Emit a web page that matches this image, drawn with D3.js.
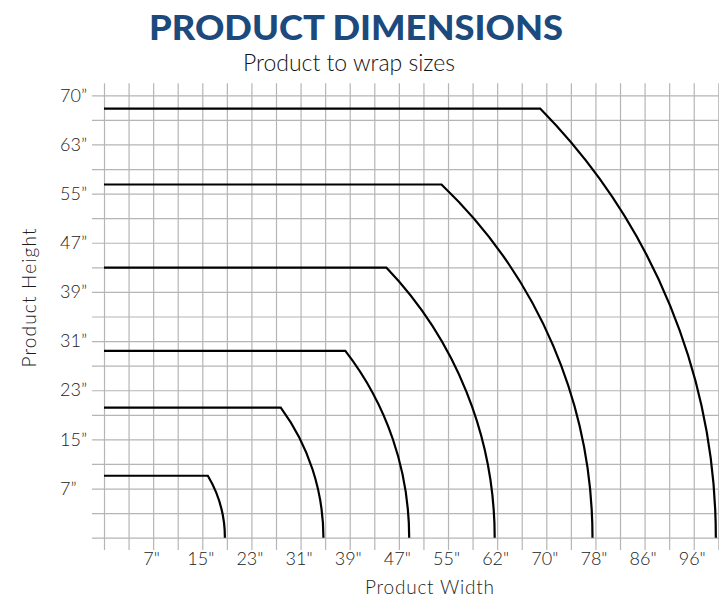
<!DOCTYPE html>
<html>
<head>
<meta charset="utf-8">
<script src="https://cdn.jsdelivr.net/npm/d3@7"></script>
<style>
  body { margin: 0; background: #fff; }
  .grid line { stroke: #b5b5b5; stroke-width: 1.2; }
  .grid path { display: none; }
  .ticklabels path, .ticklabels line { display: none; }
  .ticklabels text { font-family: Lato, sans-serif; font-size: 18px; font-weight: 300; fill: #222; }
  .axis-label { font-family: Lato, sans-serif; font-size: 19px; font-weight: 300; fill: #1e1e1e; }
</style>
</head>
<body>
<div id="chart"></div>
<script>
'use strict';

// wrap sizes, in grid units (one grid cell each way)
const wrapRadius = [4.92, 8.93, 12.42, 15.9, 19.88, 24.9];
const wrapHeight = [2.52, 5.29, 7.6, 10.99, 14.37, 17.46];

// tick labels and the grid line they sit on
const xTickIndex = [2, 4, 6, 8, 10, 12, 14, 16, 18, 20, 22, 24];
const xTickLabels = ['7"', '15"', '23"', '31"', '39"', '47"', '55"', '62"', '70"', '78"', '86"', '96"'];
const yTickIndex = [2, 4, 6, 8, 10, 12, 14, 16, 18];
const yTickLabels = ['7\u201d', '15\u201d', '23\u201d', '31\u201d', '39\u201d', '47\u201d', '55\u201d', '63\u201d', '70\u201d'];

let w = 719, h = 597;
let svg = d3.select('#chart').append('svg').attr('width', w).attr('height', h);

let x = d3.scaleLinear().domain([0, 25]).range([104, 718.3]);
let y = d3.scaleLinear().domain([0, 18]).range([537.7, 95.3]);

// vertical grid lines (run a bit past top and bottom)
svg.append('g')
    .attr('class', 'grid')
    .attr('transform', 'translate(0,550)')
    .call(d3.axisBottom(x).tickValues(d3.range(0, 26)).tickSize(-(550 - 83.3)).tickFormat(''));

// horizontal grid lines (stick out on the left)
svg.append('g')
    .attr('class', 'grid')
    .attr('transform', 'translate(92,0)')
    .call(d3.axisLeft(y).tickValues(d3.range(0, 19)).tickSize(-(w - 92 + 5)).tickFormat(''));

// x tick labels
svg.append('g')
    .attr('class', 'ticklabels')
    .attr('transform', 'translate(-2,549)')
    .call(d3.axisBottom(x).tickValues(xTickIndex).tickSize(0)
        .tickFormat((d, i) => xTickLabels[i]));

// y tick labels, left aligned
let yl = svg.append('g')
    .attr('class', 'ticklabels')
    .attr('transform', 'translate(60,0)')
    .call(d3.axisLeft(y).tickValues(yTickIndex).tickSize(0)
        .tickFormat((d, i) => yTickLabels[i]));
yl.selectAll('text').attr('x', 0).attr('text-anchor', 'start');

// wrap curves: flat top then quarter circle round the origin
let curves = svg.append('g');
wrapRadius.forEach(function (R, i) {
    let H = wrapHeight[i];
    let cx = x(0), cy = y(0);
    let r = x(R) - x(0);
    let a0 = -Math.asin((cy - y(H)) / r);
    let p = d3.path();
    p.moveTo(cx, y(H));
    p.arc(cx, cy, r, a0, 0, false);
    curves.append('path')
        .attr('d', p.toString())
        .attr('fill', 'none')
        .attr('stroke', '#000')
        .attr('stroke-width', 2.2);
});

// titles
svg.append('text')
    .attr('x', 356).attr('y', 40)
    .attr('text-anchor', 'middle')
    .attr('textLength', 414).attr('lengthAdjust', 'spacingAndGlyphs')
    .style('font-family', 'Lato, sans-serif')
    .style('font-weight', 900)
    .style('font-size', '34px')
    .style('fill', '#1c4a7d')
    .text('PRODUCT DIMENSIONS');

svg.append('text')
    .attr('x', 349).attr('y', 71)
    .attr('text-anchor', 'middle')
    .attr('textLength', 212).attr('lengthAdjust', 'spacingAndGlyphs')
    .style('font-family', 'Lato, sans-serif')
    .style('font-weight', 300)
    .style('font-size', '23px')
    .style('fill', '#111')
    .text('Product to wrap sizes');

// axis labels
svg.append('text')
    .attr('class', 'axis-label')
    .attr('text-anchor', 'middle')
    .attr('transform', 'translate(36,298)rotate(-90)')
    .attr('textLength', 139)
    .text('Product Height');

svg.append('text')
    .attr('class', 'axis-label')
    .attr('text-anchor', 'middle')
    .attr('x', 429.5).attr('y', 594)
    .attr('textLength', 129)
    .text('Product Width');
</script>
</body>
</html>
